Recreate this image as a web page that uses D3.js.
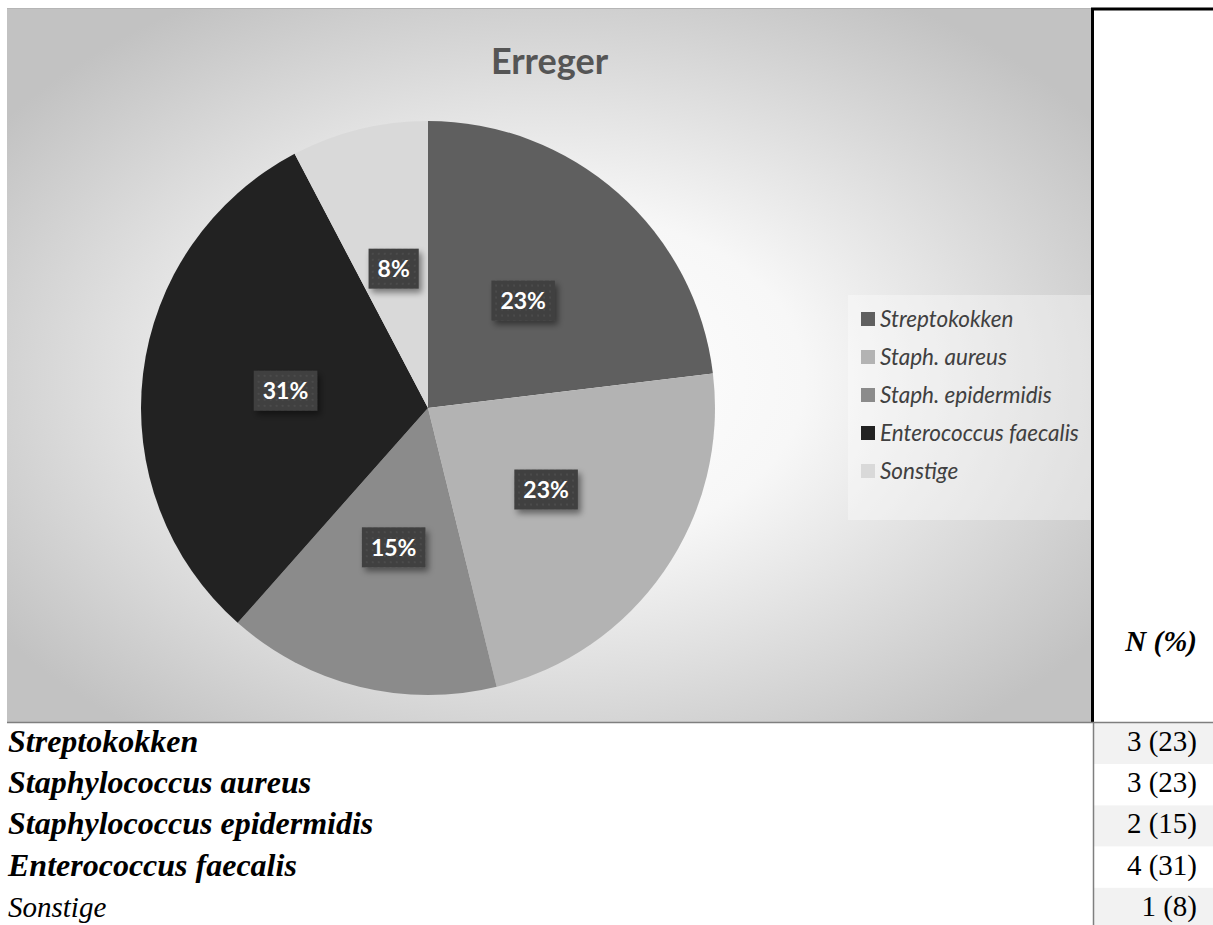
<!DOCTYPE html>
<html>
<head>
<meta charset="utf-8">
<script src="https://cdn.jsdelivr.net/npm/d3@7"></script>
<style>
  body { margin: 0; background: #fff; }
  svg { display: block; }
</style>
</head>
<body>
<div id="chart"></div>
<script>
// data
const legendLabels = ['Streptokokken', 'Staph. aureus', 'Staph. epidermidis', 'Enterococcus faecalis', 'Sonstige']
const tableLabels = ['Streptokokken', 'Staphylococcus aureus', 'Staphylococcus epidermidis', 'Enterococcus faecalis', 'Sonstige']
const tableBold = [true, true, true, true, false]
const counts = [3, 3, 2, 4, 1]
const percents = [23, 23, 15, 31, 8]
const sliceColors = ['#5f5f5f', '#b3b3b3', '#8b8b8b', '#222222', '#d9d9d9']

const W = 1213
const H = 925
const chart = { x: 7, y: 8, w: 1085, h: 714 }
const rowH = 41.2

const svg = d3.select('#chart')
  .append('svg')
  .attr('width', W)
  .attr('height', H)

const defs = svg.append('defs')

const grad = defs.append('radialGradient')
  .attr('id', 'bg')
  .attr('cx', '0.5').attr('cy', '0.52').attr('r', '0.62')
grad.append('stop').attr('offset', '0').attr('stop-color', '#ffffff')
grad.append('stop').attr('offset', '0.38').attr('stop-color', '#f7f7f7')
grad.append('stop').attr('offset', '1').attr('stop-color', '#c2c2c2')

// dotted fill of the data labels
const pat = defs.append('pattern')
  .attr('id', 'dots')
  .attr('width', 6).attr('height', 6)
  .attr('patternUnits', 'userSpaceOnUse')
pat.append('rect').attr('width', 6).attr('height', 6).attr('fill', '#3f3f3f')
pat.append('rect').attr('x', 2).attr('y', 2).attr('width', 2).attr('height', 2).attr('fill', '#4c4c4c')

const shadow = defs.append('filter').attr('id', 'shadow')
  .attr('x', '-30%').attr('y', '-30%').attr('width', '170%').attr('height', '170%')
shadow.append('feDropShadow')
  .attr('dx', 3).attr('dy', 4).attr('stdDeviation', 3)
  .attr('flood-color', '#000').attr('flood-opacity', 0.45)

// chart area
svg.append('rect')
  .attr('x', chart.x).attr('y', chart.y)
  .attr('width', chart.w).attr('height', chart.h)
  .attr('fill', 'url(#bg)')

svg.append('line')
  .attr('x1', chart.x).attr('x2', chart.x + chart.w)
  .attr('y1', chart.y + 0.5).attr('y2', chart.y + 0.5)
  .attr('stroke', '#b5b5b5')

svg.append('text')
  .attr('x', chart.x + chart.w / 2)
  .attr('y', 74)
  .attr('text-anchor', 'middle')
  .attr('font-family', 'Lato, sans-serif')
  .attr('font-weight', 'bold')
  .attr('font-size', 36)
  .attr('fill', '#555555')
  .text('Erreger')

// pie
const radius = 287
const pieG = svg.append('g').attr('transform', 'translate(428,408)')

const pie = d3.pie().sort(null).value(d => d)
const arcs = pie(counts)
const arc = d3.arc().innerRadius(0).outerRadius(radius)

pieG.selectAll('path')
  .data(arcs)
  .enter()
  .append('path')
  .attr('d', arc)
  .attr('fill', (d, i) => sliceColors[i])

const labels = pieG.selectAll('.label')
  .data(arcs)
  .enter()
  .append('g')
  .attr('class', 'label')
  .attr('transform', d => 'translate(' + arc.centroid(d) + ')')

labels.append('rect')
  .attr('fill', 'url(#dots)')
  .attr('filter', 'url(#shadow)')

labels.append('text')
  .attr('text-anchor', 'middle')
  .attr('dy', '0.36em')
  .attr('font-family', 'Lato, sans-serif')
  .attr('font-weight', 'bold')
  .attr('font-size', 23)
  .attr('fill', '#ffffff')
  .text((d, i) => percents[i] + '%')

labels.each(function() {
  const g = d3.select(this)
  const tw = g.select('text').node().getComputedTextLength()
  const bw = tw + 18
  g.select('rect')
    .attr('x', -bw / 2).attr('y', -20)
    .attr('width', bw).attr('height', 40)
})

// legend
const legend = svg.append('g').attr('transform', 'translate(848,295)')
legend.append('rect')
  .attr('width', 244).attr('height', 225)
  .attr('fill', '#ffffff').attr('opacity', 0.35)

const legendY = d3.scaleBand()
  .domain(legendLabels)
  .range([5, 195])

const items = legend.selectAll('.item')
  .data(legendLabels)
  .enter()
  .append('g')
  .attr('class', 'item')
  .attr('transform', d => 'translate(13,' + (legendY(d) + legendY.bandwidth() / 2) + ')')

items.append('rect')
  .attr('x', 0).attr('y', -7)
  .attr('width', 14).attr('height', 14)
  .attr('fill', (d, i) => sliceColors[i])

items.append('text')
  .attr('x', 19)
  .attr('dy', '0.36em')
  .attr('font-family', 'Lato, sans-serif')
  .attr('font-style', 'italic')
  .attr('font-size', 22.5)
  .attr('fill', '#404040')
  .text(d => d)

// right column frame
svg.append('line')
  .attr('x1', 1092.5).attr('x2', 1092.5)
  .attr('y1', 8).attr('y2', 722)
  .attr('stroke', '#000').attr('stroke-width', 3)
svg.append('line')
  .attr('x1', 1091).attr('x2', W)
  .attr('y1', 9).attr('y2', 9)
  .attr('stroke', '#000').attr('stroke-width', 3)

svg.append('text')
  .attr('x', 1197)
  .attr('y', 651)
  .attr('text-anchor', 'end')
  .attr('font-family', '"Liberation Serif", "Times New Roman", serif')
  .attr('font-weight', 'bold')
  .attr('font-style', 'italic')
  .attr('font-size', 29)
  .attr('fill', '#000')
  .text('N (%)')

// table
const tableTop = 723
const rows = svg.selectAll('.row')
  .data(tableLabels)
  .enter()
  .append('g')
  .attr('class', 'row')
  .attr('transform', (d, i) => 'translate(0,' + (tableTop + i * rowH) + ')')

rows.append('rect')
  .attr('x', 1094).attr('y', 0)
  .attr('width', W - 1094).attr('height', rowH)
  .attr('fill', (d, i) => i % 2 === 0 ? '#f2f2f2' : '#ffffff')

rows.append('text')
  .attr('x', 8)
  .attr('y', 29)
  .attr('font-family', '"Liberation Serif", "Times New Roman", serif')
  .attr('font-weight', (d, i) => tableBold[i] ? 'bold' : 'normal')
  .attr('font-style', 'italic')
  .attr('font-size', (d, i) => tableBold[i] ? 32 : 29)
  .attr('fill', '#000')
  .text(d => d)

rows.append('text')
  .attr('x', 1197)
  .attr('y', 28)
  .attr('text-anchor', 'end')
  .attr('font-family', '"Liberation Serif", "Times New Roman", serif')
  .attr('font-size', 29)
  .attr('fill', '#000')
  .text((d, i) => counts[i] + ' (' + percents[i] + ')')

svg.append('line')
  .attr('x1', chart.x).attr('x2', W)
  .attr('y1', 722.5).attr('y2', 722.5)
  .attr('stroke', '#7f7f7f').attr('stroke-width', 1.5)
svg.append('line')
  .attr('x1', 1093.5).attr('x2', 1093.5)
  .attr('y1', 722).attr('y2', H)
  .attr('stroke', '#7f7f7f').attr('stroke-width', 1.5)
</script>
</body>
</html>
